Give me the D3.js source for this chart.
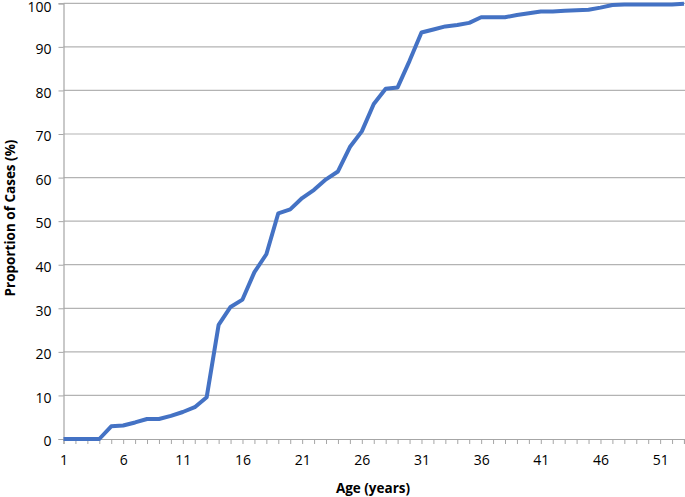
<!DOCTYPE html>
<html><head><meta charset="utf-8">
<script src="https://cdn.jsdelivr.net/npm/d3@7"></script>
<style>body{margin:0;background:#fff}svg{display:block}text{font-family:"Open Sans",sans-serif}</style>
</head><body><svg id="c" width="685" height="497"></svg>
<script>
const ages = d3.range(1, 54);
const proportions = [0,0,0,0,2.9,3.1,3.8,4.6,4.6,5.3,6.2,7.3,9.6,26.2,30.3,32.0,38.3,42.4,51.8,52.7,55.3,57.2,59.6,61.4,67.0,70.6,76.9,80.4,80.7,86.8,93.3,94.0,94.7,95.0,95.5,96.8,96.8,96.8,97.3,97.7,98.1,98.1,98.3,98.4,98.5,99.0,99.6,99.7,99.7,99.7,99.7,99.7,99.9];
const yTicks = d3.range(0, 101, 10);
const xTickLabels = [1,6,11,16,21,26,31,36,41,46,51];
const xTitle = "Age (years)";
const yTitle = "Proportion of Cases (%)";

const svg = d3.select("#c");
const L = 63.5, R = 684, T = 3.3, B = 439;
const x = d3.scaleLinear().domain([1, 53]).range([L, R]);
const y = d3.scaleLinear().domain([0, 100]).range([B, T]);

// gridlines
svg.append("g").selectAll("line").data(yTicks.filter(d => d > 0)).join("line")
  .attr("x1", L).attr("x2", 685).attr("y1", d => y(d)).attr("y2", d => y(d))
  .attr("stroke", "#b3b3b3").attr("stroke-width", 1.2);

// y axis
const ya = svg.append("g").attr("transform", `translate(${L},0)`)
  .call(d3.axisLeft(y).tickValues(yTicks).tickSize(5).tickPadding(7));
ya.select(".domain").attr("stroke", "#a6a6a6").attr("stroke-width", 1.2);
ya.selectAll(".tick line").attr("stroke", "#a6a6a6");
ya.selectAll("text").attr("font-size", 14).attr("fill", "#000")
  .attr("dy", d => d === 100 ? "0.6em" : "0.48em")
  .attr("font-family", "'Open Sans',sans-serif");

// x axis
const xa = svg.append("g").attr("transform", `translate(0,${B})`)
  .call(d3.axisBottom(x).tickValues(ages).tickSize(5).tickPadding(11)
    .tickFormat(d => xTickLabels.includes(d) ? d : ""));
xa.select(".domain").attr("stroke", "#a6a6a6").attr("stroke-width", 1.2);
xa.selectAll(".tick line").attr("stroke", "#a6a6a6");
xa.selectAll("text").attr("font-size", 14).attr("fill", "#000").attr("font-family", "'Open Sans',sans-serif");

// line
svg.append("path").datum(proportions)
  .attr("fill", "none").attr("stroke", "#4472c4").attr("stroke-width", 4)
  .attr("stroke-linejoin", "round")
  .attr("d", d3.line().x((d, i) => x(ages[i])).y(d => y(d)));

// titles
svg.append("text").attr("x", 373).attr("y", 493).attr("text-anchor", "middle")
  .attr("font-size", 13.5).attr("font-weight", "bold").text(xTitle);
svg.append("text").attr("transform", "translate(15,218) rotate(-90)").attr("text-anchor", "middle")
  .attr("font-size", 13.5).attr("font-weight", "bold").text(yTitle);
</script></body></html>
